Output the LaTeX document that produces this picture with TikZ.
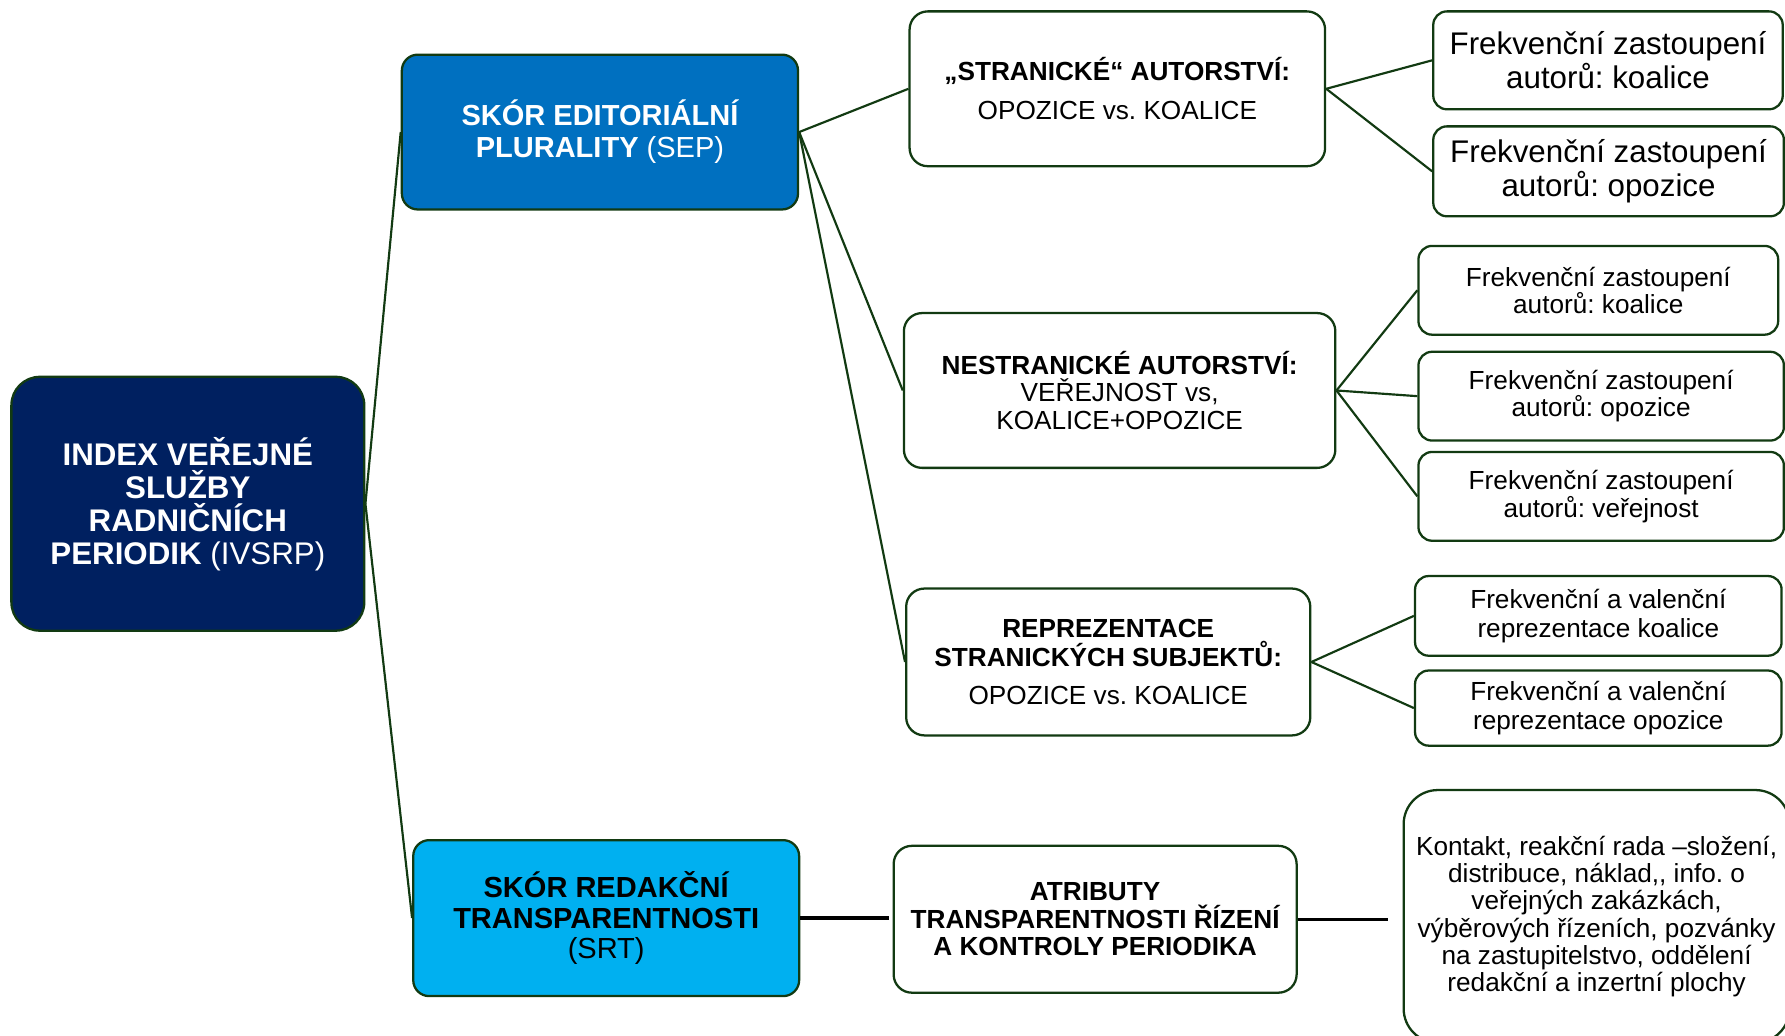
\documentclass[tikz,border=0pt]{standalone}
\usepackage{fontspec}
\setmainfont{Liberation Sans}
\frenchspacing
\definecolor{navyfill}{HTML}{002060}
\definecolor{bluefill}{HTML}{0070C0}
\definecolor{cyanfill}{HTML}{00B0F0}
\definecolor{edge}{RGB}{18,58,18}
\tikzset{
  box/.style={draw=edge, line width=2pt, rounded corners=12pt, inner sep=0pt,
    align=center, text=black, fill=white},
  link/.style={draw=edge, line width=1.9pt},
  blink/.style={draw=black, line width=3pt},
  fs/.style 2 args={font=\fontsize{#1}{#2}\selectfont},
}
\begin{document}
\frenchspacing
\begin{tikzpicture}[x=1pt,y=-1pt]
\useasboundingbox (0,0) rectangle (1568,910);

% level 0
\node[box, fill=navyfill, text=white, rounded corners=25pt, minimum width=310pt, minimum height=223pt, fs={27.5}{29}] (ivs) at (165,442.5)
  {\bfseries INDEX VEŘEJNÉ\\ \bfseries SLUŽBY\\ \bfseries RADNIČNÍCH\\ \bfseries PERIODIK \mdseries(IVSRP)};

% level 1
\node[box, fill=bluefill, text=white, rounded corners=14pt, minimum width=348pt, minimum height=136pt, fs={25.5}{28}] (sep) at (527,116)
  {\bfseries SKÓR EDITORIÁLNÍ\\ \bfseries PLURALITY \mdseries(SEP)};
\node[box, fill=cyanfill, rounded corners=14pt, minimum width=339pt, minimum height=137pt, fs={25.5}{27}] (srt) at (532.5,806.5)
  {\bfseries SKÓR REDAKČNÍ\\ \bfseries TRANSPARENTNOSTI\\ (SRT)};

% level 2
\node[box, rounded corners=16pt, minimum width=365pt, minimum height=136pt, fs={23}{24}] (str) at (981.5,78)
  {\bfseries „STRANICKÉ“ AUTORSTVÍ:\\[10pt] OPOZICE vs. KOALICE};
\node[box, rounded corners=16pt, minimum width=379pt, minimum height=136pt, fs={23}{24}] (nes) at (983.5,343)
  {\bfseries NESTRANICKÉ AUTORSTVÍ:\\ VEŘEJNOST vs,\\ KOALICE+OPOZICE};
\node[box, rounded corners=16pt, minimum width=355pt, minimum height=129pt, fs={23}{25}] (rep) at (973.5,581.5)
  {\bfseries REPREZENTACE\\ \bfseries STRANICKÝCH SUBJEKTŮ:\\[8pt] OPOZICE vs. KOALICE};
\node[box, rounded corners=16pt, minimum width=354pt, minimum height=129pt, fs={23}{24}] (atr) at (962,807.5)
  {\bfseries ATRIBUTY\\ \bfseries TRANSPARENTNOSTI ŘÍZENÍ\\ \bfseries A KONTROLY PERIODIKA};

% level 3
\node[box, minimum width=307pt, minimum height=86pt, fs={27.5}{30}] (r1) at (1412.5,53)
  {Frekvenční zastoupení\\ autorů: koalice};
\node[box, minimum width=308pt, minimum height=79pt, fs={27.5}{30}] (r2) at (1413,150.5)
  {Frekvenční zastoupení\\ autorů: opozice};
\node[box, minimum width=316pt, minimum height=78pt, fs={23}{24}] (r3) at (1404,255)
  {Frekvenční zastoupení\\ autorů: koalice};
\node[box, minimum width=321pt, minimum height=78pt, fs={23}{24}] (r4) at (1406.5,348)
  {Frekvenční zastoupení\\ autorů: opozice};
\node[box, minimum width=321pt, minimum height=78pt, fs={23}{25}] (r5) at (1406.5,436)
  {Frekvenční zastoupení\\ autorů: veřejnost};
\node[box, minimum width=322pt, minimum height=70pt, fs={23}{26}] (r6) at (1404,541)
  {Frekvenční a valenční\\ reprezentace koalice};
\node[box, minimum width=322pt, minimum height=66pt, fs={23}{25}] (r7) at (1404,622)
  {Frekvenční a valenční\\ reprezentace opozice};
\node[box, rounded corners=30pt, minimum width=339pt, minimum height=222pt, fs={23}{24}] (r8) at (1402.5,805)
  {Kontakt, reakční rada –složení,\\ distribuce, náklad,{},\ info. o\\ veřejných zakázkách,\\ výběrových řízeních, pozvánky\\ na zastupitelstvo, oddělení\\ redakční a inzertní plochy};

% connectors
\draw[link] (ivs.east) -- (sep.west);
\draw[link] (ivs.east) -- (srt.west);
\draw[link] (sep.east) -- (str.west);
\draw[link] (sep.east) -- (nes.west);
\draw[link] (sep.east) -- (rep.west);
\draw[link] (str.east) -- (r1.west);
\draw[link] (str.east) -- (r2.west);
\draw[link] (nes.east) -- (r3.west);
\draw[link] (nes.east) -- (r4.west);
\draw[link] (nes.east) -- (r5.west);
\draw[link] (rep.east) -- (r6.west);
\draw[link] (rep.east) -- (r7.west);
\draw[blink, shorten >=3pt] (srt.east) -- (srt.east -| atr.west);
\draw[blink, shorten >=13pt] (atr.east) -- (atr.east -| r8.west);
\end{tikzpicture}
\end{document}
